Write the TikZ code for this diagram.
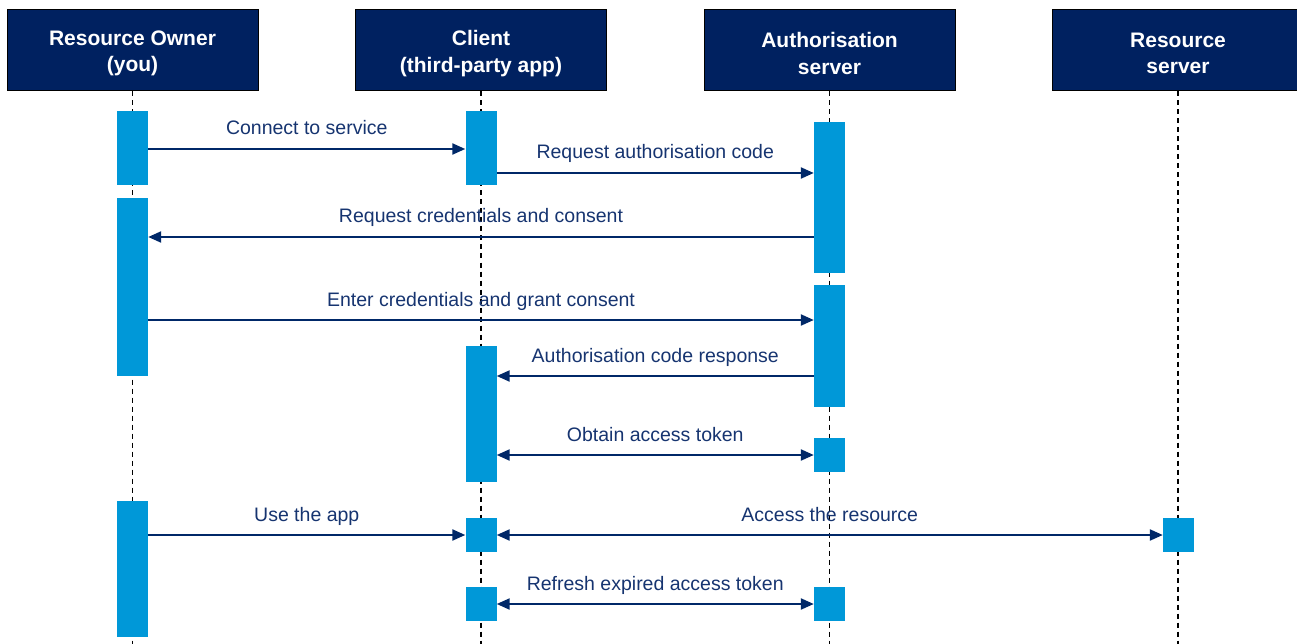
\documentclass[tikz,border=0pt]{standalone}
\usepackage{fontspec}
\setmainfont{Liberation Sans}
\usetikzlibrary{arrows.meta}
\definecolor{hdr}{RGB}{0,33,96}
\definecolor{barc}{RGB}{0,152,216}
\definecolor{msgc}{RGB}{0,40,104}
\definecolor{txt}{RGB}{22,52,112}
\begin{document}
\begin{tikzpicture}[x=1pt,y=-1pt,
  actor/.style={draw=black, line width=1pt, fill=hdr,
    minimum width=251pt, minimum height=81pt, inner sep=0pt},
  actortext/.style={text=white, align=center, anchor=center, yshift=-3pt,
    font=\fontsize{21}{26.5}\selectfont\bfseries},
  life/.style={draw=black, line width=1.5pt, dash pattern=on 5pt off 4pt},
  act/.style={fill=barc, inner sep=0pt, minimum width=31pt, anchor=north},
  msg/.style={draw=msgc, line width=2.2pt,
    -{Triangle[length=13pt,width=11pt]}},
  both/.style={draw=msgc, line width=2.2pt,
    {Triangle[length=13pt,width=11pt]}-{Triangle[length=13pt,width=11pt]}},
  lbl/.style={text=txt, font=\fontsize{19.5}{24}\selectfont, anchor=base,
    yshift=14pt, inner sep=0pt}]
\useasboundingbox (0,0) rectangle (1297,644);

% participants
\node[actor] (own) at (132.5,50.5) {};
\node[actor] (cli) at (481,50.5) {};
\node[actor] (aut) at (829.5,50.5) {};
\node[actor] (res) at (1178,50.5) {};
\node[actortext] (own-t) at (own.center) {Resource Owner\\(you)};
\node[actortext] (cli-t) at (cli.center) {Client\\(third-party app)};
\node[actortext] (aut-t) at (aut.center) {Authorisation\\server};
\node[actortext] (res-t) at (res.center) {Resource\\server};

% lifelines
\coordinate (bottom) at (0,644);
\foreach \p in {own,cli,aut,res}
  \draw[life] (\p.south) -- (\p.south |- bottom);

% activation bars
\node[act, minimum height=74pt]  (o1) at (132.5,111) {};
\node[act, minimum height=178pt] (o2) at (132.5,198) {};
\node[act, minimum height=136pt] (o3) at (132.5,501) {};

\node[act, minimum height=74pt]  (c1) at (481,111) {};
\node[act, minimum height=136pt] (c2) at (481,346) {};
\node[act, minimum height=34pt]  (c3) at (481,518) {};
\node[act, minimum height=34pt]  (c4) at (481,587) {};

\node[act, minimum height=151pt] (a1) at (829.5,122) {};
\node[act, minimum height=122pt] (a2) at (829.5,285) {};
\node[act, minimum height=34pt]  (a3) at (829.5,438) {};
\node[act, minimum height=34pt]  (a4) at (829.5,587) {};

\node[act, minimum height=34pt]  (r1) at (1178.5,518) {};

% message rows
\coordinate (m1) at (0,149);
\coordinate (m2) at (0,173);
\coordinate (m3) at (0,237);
\coordinate (m4) at (0,320);
\coordinate (m5) at (0,376);
\coordinate (m6) at (0,455);
\coordinate (m7) at (0,535);
\coordinate (m8) at (0,604);

% messages
\draw[msg] (o1.east |- m1) -- node[lbl] {Connect to service} (c1.west |- m1);
\draw[msg] (c1.east |- m2) -- node[lbl] {Request authorisation code} (a1.west |- m2);
\draw[msg] (a1.west |- m3) -- node[lbl] {Request credentials and consent} (o2.east |- m3);
\draw[msg] (o2.east |- m4) -- node[lbl] {Enter credentials and grant consent} (a2.west |- m4);
\draw[msg] (a2.west |- m5) -- node[lbl] {Authorisation code response} (c2.east |- m5);
\draw[both] (c2.east |- m6) -- node[lbl] {Obtain access token} (a3.west |- m6);
\draw[msg] (o3.east |- m7) -- node[lbl] {Use the app} (c3.west |- m7);
\draw[both] (c3.east |- m7) -- node[lbl] {Access the resource} (r1.west |- m7);
\draw[both] (c4.east |- m8) -- node[lbl] {Refresh expired access token} (a4.west |- m8);
\end{tikzpicture}
\end{document}
